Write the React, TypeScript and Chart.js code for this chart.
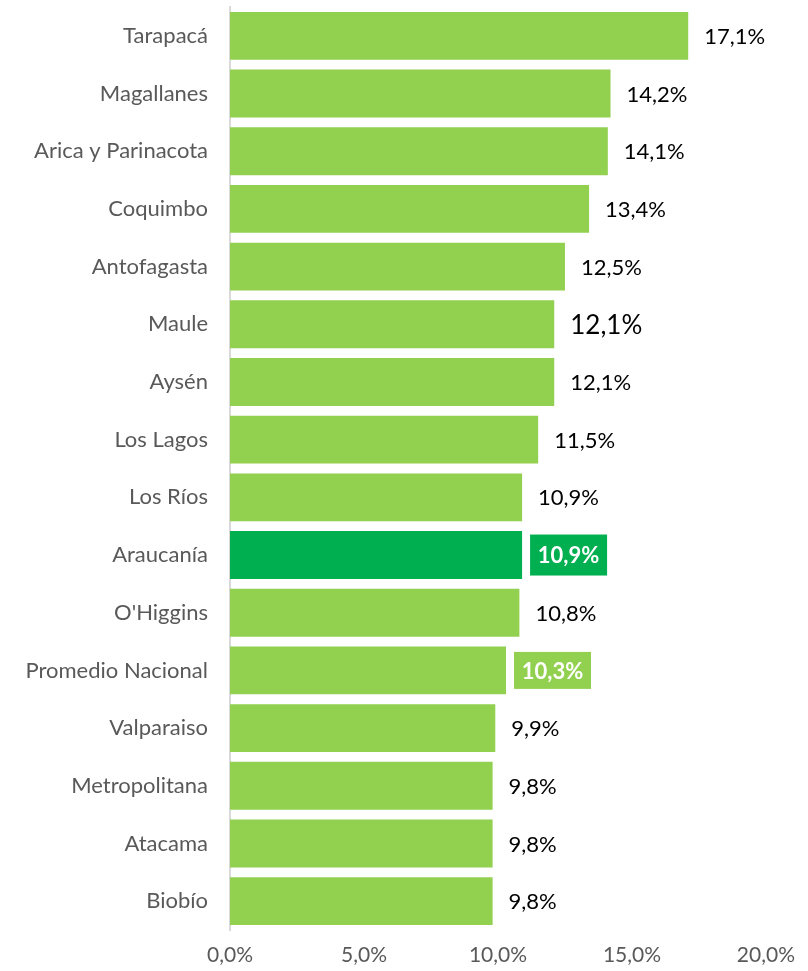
import React, { useEffect, useRef } from "react";
import { Chart, registerables } from "chart.js";

Chart.register(...registerables);

const regions = [
  "Tarapacá", "Magallanes", "Arica y Parinacota", "Coquimbo", "Antofagasta", "Maule",
  "Aysén", "Los Lagos", "Los Ríos", "Araucanía", "O'Higgins", "Promedio Nacional",
  "Valparaiso", "Metropolitana", "Atacama", "Biobío",
];
const rates = [17.1, 14.2, 14.1, 13.4, 12.5, 12.1, 12.1, 11.5, 10.9, 10.9, 10.8, 10.3, 9.9, 9.8, 9.8, 9.8];
const xTicks = [0, 5, 10, 15, 20];

const highlightRegion = "Araucanía";
const nationalRegion = "Promedio Nacional";
const largeLabelRegion = "Maule";

const LIGHT = "#92D050";
const DARK = "#00B050";
const FONT = "Lato, 'Open Sans', sans-serif";

const fmt = (v: number) => v.toFixed(1).replace(".", ",") + "%";

const labelPlugin = {
  id: "valueLabels",
  afterDatasetsDraw(chart: any) {
    const ctx = chart.ctx;
    const meta = chart.getDatasetMeta(0);
    ctx.save();
    meta.data.forEach((bar: any, i: number) => {
      const name = regions[i];
      const text = fmt(rates[i]);
      const x = bar.x;
      const y = bar.y;
      if (name === highlightRegion || name === nationalRegion) {
        const h = name === highlightRegion ? 41 : 37;
        const w = 77;
        ctx.fillStyle = name === highlightRegion ? DARK : LIGHT;
        ctx.fillRect(x + 8, y - h / 2, w, h);
        ctx.fillStyle = "#FFFFFF";
        ctx.font = `bold 22px ${FONT}`;
        ctx.textAlign = "center";
        ctx.textBaseline = "middle";
        ctx.fillText(text, x + 8 + w / 2, y + 1);
      } else {
        ctx.fillStyle = "#000000";
        ctx.font = name === largeLabelRegion ? `26px ${FONT}` : `22px ${FONT}`;
        ctx.textAlign = "left";
        ctx.textBaseline = "middle";
        ctx.fillText(text, x + 16, y + 1);
      }
    });
    ctx.restore();
  },
};

export default function App() {
  const ref = useRef<HTMLCanvasElement>(null);
  useEffect(() => {
    document.body.style.margin = "0";
    const chart = new Chart(ref.current!, {
      type: "bar",
      data: {
        labels: regions,
        datasets: [
          {
            data: rates,
            backgroundColor: regions.map((r) => (r === highlightRegion ? DARK : LIGHT)),
            borderWidth: 0,
            barPercentage: 0.83,
            categoryPercentage: 1,
          },
        ],
      },
      options: {
        indexAxis: "y",
        animation: false,
        responsive: false,
        maintainAspectRatio: false,
        layout: { padding: { top: 7, right: 40, bottom: 0, left: 0 } },
        plugins: { legend: { display: false }, tooltip: { enabled: false } },
        scales: {
          x: {
            min: 0,
            max: 20,
            afterFit(scale: any) {
              scale.height = 41;
            },
            afterBuildTicks(scale: any) {
              scale.ticks = xTicks.map((v) => ({ value: v }));
            },
            grid: { display: false, drawTicks: false },
            border: { display: false },
            ticks: {
              padding: 13,
              color: "#595959",
              font: { family: FONT, size: 21 },
              callback: (v: any) => fmt(Number(v)),
              maxRotation: 0,
            },
          },
          y: {
            afterFit(scale: any) {
              scale.width = 230;
              scale.paddingTop = 0;
              scale.paddingBottom = 0;
            },
            grid: { display: false, drawTicks: false },
            border: { display: true, color: "#D9D9D9", width: 2 },
            ticks: {
              padding: 22,
              color: "#595959",
              font: { family: FONT, size: 22 },
            },
          },
        },
      },
      plugins: [labelPlugin],
    });
    return () => chart.destroy();
  }, []);
  return (
    <div style={{ position: "absolute", left: 0, top: 0, width: 808, height: 971 }}>
      <canvas ref={ref} width={808} height={971} style={{ width: 808, height: 971 }} />
    </div>
  );
}
